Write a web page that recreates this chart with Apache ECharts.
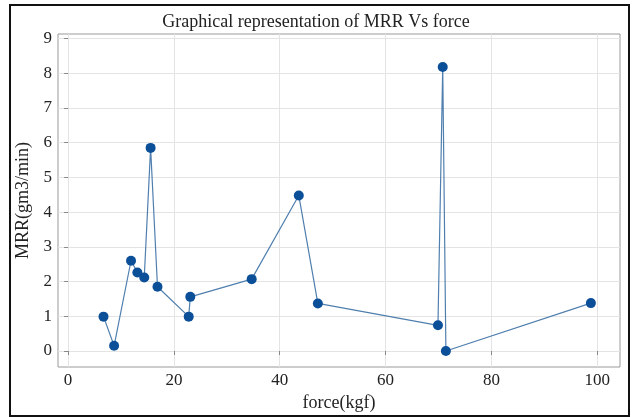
<!DOCTYPE html>
<html>
<head>
<meta charset="utf-8">
<script src="https://cdn.jsdelivr.net/npm/echarts@6/dist/echarts.min.js"></script>
<style>
    html, body { margin: 0; padding: 0; background: #fff; }
    #mrrChart { width: 632px; height: 417px; }
</style>
</head>
<body>
<div id="mrrChart"></div>
<script>
// values
let forceKgf = [6.7, 8.7, 11.9, 13.1, 14.4, 15.6, 16.9, 22.8, 23.1, 34.7, 43.6, 47.2, 69.9, 70.8, 71.4, 98.8];
let mrrValues = [0.99, 0.15, 2.6, 2.26, 2.12, 5.85, 1.85, 0.99, 1.56, 2.07, 4.48, 1.37, 0.74, 8.18, 0.0, 1.38];
let xTicks = [0, 20, 40, 60, 80, 100];
let yTicks = [0, 1, 2, 3, 4, 5, 6, 7, 8, 9];

let points = forceKgf.map((f, i) => [f, mrrValues[i]]);

let myChart = echarts.init(document.getElementById("mrrChart"));
let serif = 'Liberation Serif';
myChart.setOption({
    animation: false,
    title: {
        text: 'Graphical representation of MRR Vs force',
        left: 'center',
        top: 8,
        textStyle: {
            fontFamily: serif,
            fontWeight: 'normal',
            fontSize: 18,
            color: '#222'
        }
    },
    graphic: [{
        type: 'rect',
        shape: { x: 10, y: 5, width: 619, height: 411 },
        style: { fill: null, stroke: '#111', lineWidth: 2 },
        silent: true
    }],
    grid: {
        left: 58,
        top: 34,
        right: 12,
        bottom: 49,
        show: true,
        borderColor: '#9a9a9a',
        borderWidth: 1
    },
    xAxis: {
        type: 'value',
        min: -1.9,
        max: 104.3,
        name: 'force(kgf)',
        nameLocation: 'middle',
        nameGap: 27,
        nameTextStyle: { fontFamily: serif, fontSize: 18, color: '#222' },
        axisLine: { show: false },
        axisTick: { show: true, length: 4, customValues: xTicks, lineStyle: { color: '#888' } },
        axisLabel: { customValues: xTicks, fontFamily: serif, fontSize: 17, color: '#222', margin: 5 },
        splitLine: { show: true, lineStyle: { color: '#e4e4e4' } }
    },
    yAxis: {
        type: 'value',
        min: -0.46,
        max: 9.13,
        name: 'MRR(gm3/min)',
        nameLocation: 'middle',
        nameGap: 25,
        nameTextStyle: { fontFamily: serif, fontSize: 18, color: '#222' },
        axisLine: { show: false },
        axisTick: { show: true, length: 4, customValues: yTicks, lineStyle: { color: '#888' } },
        axisLabel: { customValues: yTicks, fontFamily: serif, fontSize: 17, color: '#222', margin: 6 },
        splitLine: { show: true, lineStyle: { color: '#e4e4e4' } }
    },
    series: [{
        type: 'line',
        data: points,
        symbol: 'circle',
        symbolSize: 10,
        itemStyle: { color: '#0b4f98' },
        lineStyle: { color: '#4f7fae', width: 1.2 }
    }]
});
</script>
</body>
</html>
